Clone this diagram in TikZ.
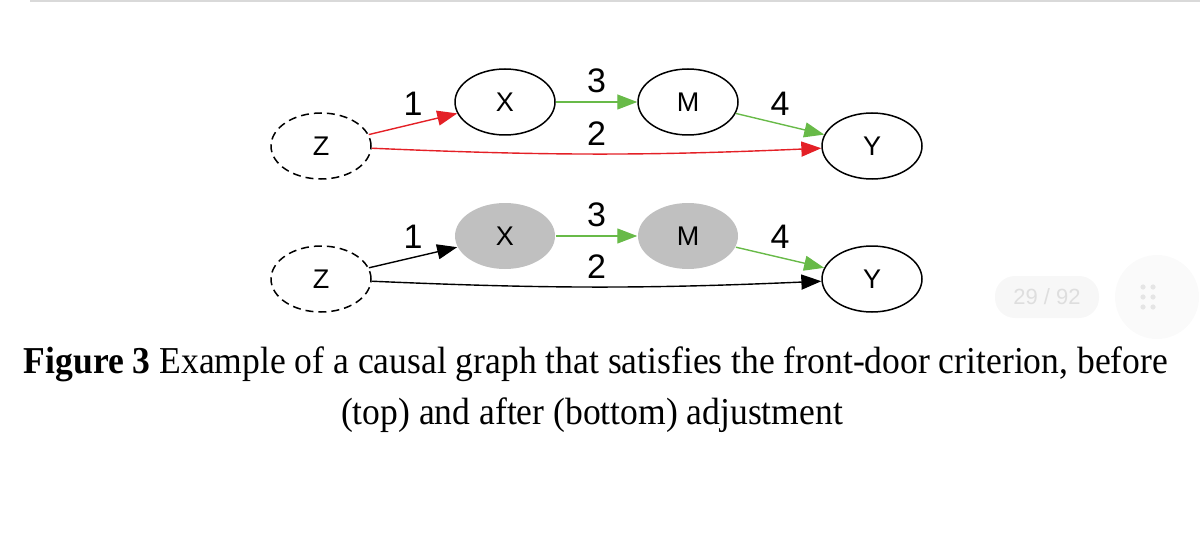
\documentclass[tikz,border=0pt]{standalone}
\usepackage{fontspec}
\setsansfont{Liberation Sans}
\newfontfamily\capfont[FakeStretch=0.936]{Liberation Serif}
\usetikzlibrary{shapes.geometric,arrows.meta,positioning}
\definecolor{edgered}{RGB}{228,32,38}
\definecolor{edgegreen}{RGB}{104,186,72}
\definecolor{nodegray}{RGB}{192,192,192}

\begin{document}
\begin{tikzpicture}[x=0.5pt,y=-0.5pt,
		var/.style={ellipse,draw,line width=0.75pt,minimum width=50pt,minimum height=33pt,inner sep=0pt,font=\sffamily\fontsize{13.5}{16}\selectfont},
		hidden/.style={var,dash pattern={on 4pt off 2.5pt}},
		adjusted/.style={var,draw=none,fill=nodegray},
		causal/.style={line width=0.7pt,-{Triangle[length=10pt,width=7.5pt]}},
		num/.style={midway,above=4pt,inner sep=0pt,text=black,font=\sffamily\fontsize{17}{20}\selectfont}]
			%set diagram size 1200 x 540
			\useasboundingbox (0,0) rectangle (1200,540);
			
			%Straight Lines [page edge]
			\draw [black!15,line width=1pt] (30,1) -- (1200,1);
			
			% top graph (before adjustment)
			\node [hidden] (z1) at (321,146) {Z};
			\node [var] (x1) at (505,102) {X};
			\node [var] (m1) at (688,102) {M};
			\node [var] (y1) at (872,146) {Y};
			\draw [causal,edgered] (z1) -- node [num] (e1a) {1} (x1);
			\draw [causal,edgered] (z1) to [bend right=2.5] node [num] (e2a) {2} (y1);
			\draw [causal,edgegreen] (x1) -- node [num] (e3a) {3} (m1);
			\draw [causal,edgegreen] (m1) -- node [num] (e4a) {4} (y1);
			
			% bottom graph (after adjustment)
			\node [hidden] (z2) at (321,279) {Z};
			\node [adjusted] (x2) at (505,236) {X};
			\node [adjusted] (m2) at (688,236) {M};
			\node [var] (y2) at (872,279) {Y};
			\draw [causal] (z2) -- node [num] (e1b) {1} (x2);
			\draw [causal] (z2) to [bend right=2.5] node [num] (e2b) {2} (y2);
			\draw [causal,edgegreen] (x2) -- node [num] (e3b) {3} (m2);
			\draw [causal,edgegreen] (m2) -- node [num] (e4b) {4} (y2);
			
			% page counter
			\node [fill=black!3,rounded corners=10pt,minimum width=52pt,minimum height=21pt,text=black!13,font=\sffamily\fontsize{11}{13}\selectfont] (page) at (1047,297) {29 / 92};
			\node [circle,fill=black!2,minimum size=42pt] (menu) at (1157,297) {};
			\foreach \i in {-1,0,1}
			\foreach \j in {0,1}
			\fill [black!10] ({1143+\j*10},{297+\i*10}) circle (1.3pt);
			
			% Text Node
			\node [anchor=base,inner sep=0pt,font=\capfont\fontsize{19}{23}\selectfont] (cap1) at (596,373) {\textbf{Figure 3} Example of a causal graph that satisfies the front-door criterion, before};
			% Text Node
			\node [anchor=base,inner sep=0pt,font=\capfont\fontsize{19}{23}\selectfont] (cap2) at (592,424) {(top) and after (bottom) adjustment};
			
\end{tikzpicture}
\end{document}
